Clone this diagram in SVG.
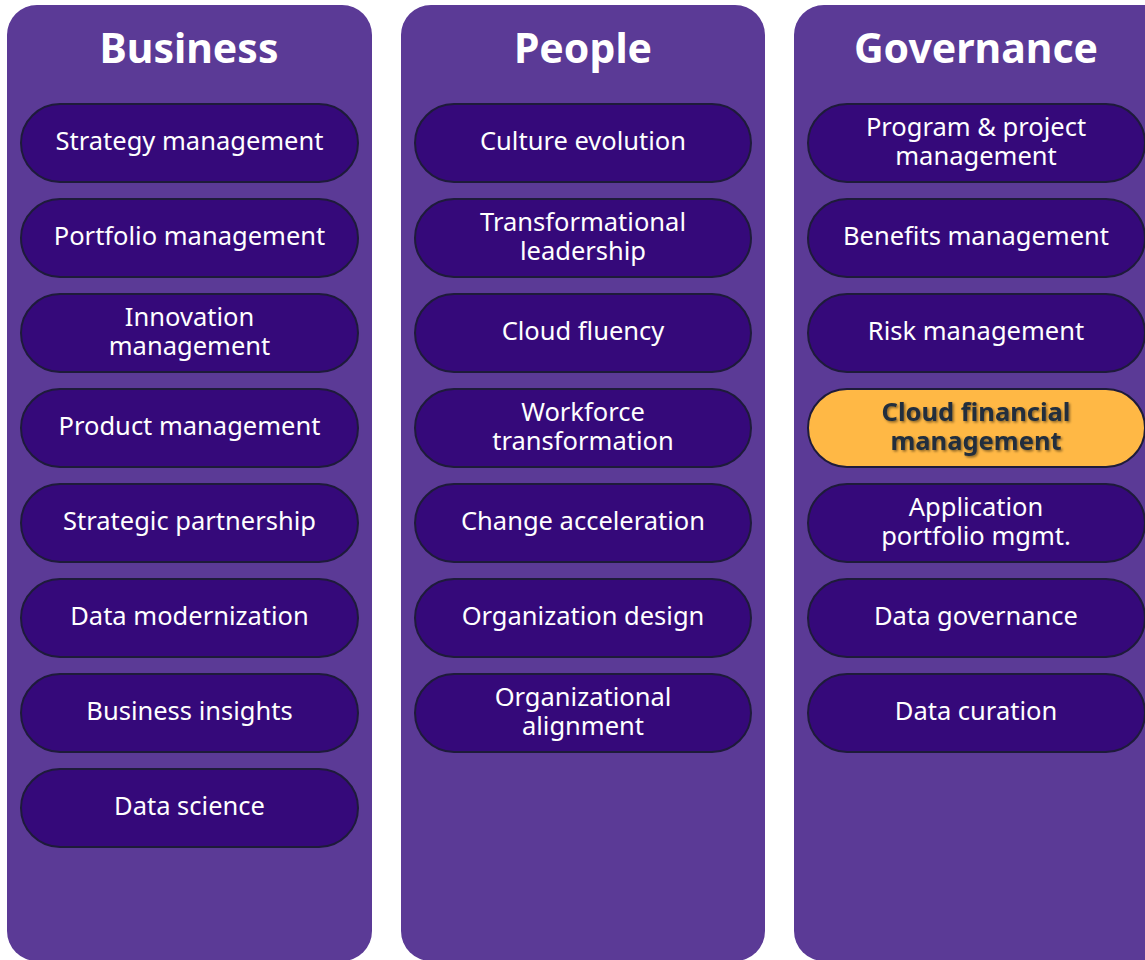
<svg xmlns="http://www.w3.org/2000/svg" width="1145" height="960" viewBox="0 0 1145 960">
<defs>
<style>
.panel{fill:#5b3a96}
.pill rect{fill:#35097a;stroke:#1e1b3a;stroke-width:2}
.pill text{fill:#ffffff;font-family:"Noto Sans","Open Sans",sans-serif;font-size:25.5px;text-anchor:middle}
.title{fill:#ffffff;font-family:"Noto Sans","Open Sans",sans-serif;font-size:41px;font-weight:bold;text-anchor:middle}
.hl rect{fill:#ffb845}
.hl text{fill:#232f3e;font-weight:bold;filter:url(#sh)}
</style>
<filter id="sh" x="-10%" y="-30%" width="120%" height="160%">
<feDropShadow dx="1.5" dy="1.5" stdDeviation="1" flood-color="#000" flood-opacity="0.45"/>
</filter>
</defs>
<rect width="1145" height="960" fill="#ffffff"/>
<g id="col-business">
<rect class="panel" x="7" y="5" width="365" height="956" rx="30"/>
<text class="title" x="189" y="63">Business</text>
</g>
<g id="col-people">
<rect class="panel" x="401" y="5" width="364" height="956" rx="30"/>
<text class="title" x="583" y="63">People</text>
</g>
<g id="col-governance">
<rect class="panel" x="794" y="5" width="380" height="956" rx="30"/>
<text class="title" x="976" y="63">Governance</text>
</g>

<g id="b1" class="pill"><rect x="21" y="104" width="337" height="78" rx="39"/><text x="189.5" y="150">Strategy management</text></g>
<g id="b2" class="pill"><rect x="21" y="199" width="337" height="78" rx="39"/><text x="189.5" y="245">Portfolio management</text></g>
<g id="b3" class="pill"><rect x="21" y="294" width="337" height="78" rx="39"/><text x="189.5" y="326">Innovation</text><text x="189.5" y="355">management</text></g>
<g id="b4" class="pill"><rect x="21" y="389" width="337" height="78" rx="39"/><text x="189.5" y="435">Product management</text></g>
<g id="b5" class="pill"><rect x="21" y="484" width="337" height="78" rx="39"/><text x="189.5" y="530">Strategic partnership</text></g>
<g id="b6" class="pill"><rect x="21" y="579" width="337" height="78" rx="39"/><text x="189.5" y="625">Data modernization</text></g>
<g id="b7" class="pill"><rect x="21" y="674" width="337" height="78" rx="39"/><text x="189.5" y="720">Business insights</text></g>
<g id="b8" class="pill"><rect x="21" y="769" width="337" height="78" rx="39"/><text x="189.5" y="815">Data science</text></g>

<g id="p1" class="pill"><rect x="415" y="104" width="336" height="78" rx="39"/><text x="583" y="150">Culture evolution</text></g>
<g id="p2" class="pill"><rect x="415" y="199" width="336" height="78" rx="39"/><text x="583" y="231">Transformational</text><text x="583" y="260">leadership</text></g>
<g id="p3" class="pill"><rect x="415" y="294" width="336" height="78" rx="39"/><text x="583" y="340">Cloud fluency</text></g>
<g id="p4" class="pill"><rect x="415" y="389" width="336" height="78" rx="39"/><text x="583" y="421">Workforce</text><text x="583" y="450">transformation</text></g>
<g id="p5" class="pill"><rect x="415" y="484" width="336" height="78" rx="39"/><text x="583" y="530">Change acceleration</text></g>
<g id="p6" class="pill"><rect x="415" y="579" width="336" height="78" rx="39"/><text x="583" y="625">Organization design</text></g>
<g id="p7" class="pill"><rect x="415" y="674" width="336" height="78" rx="39"/><text x="583" y="706">Organizational</text><text x="583" y="735">alignment</text></g>

<g id="g1" class="pill"><rect x="808" y="104" width="337" height="78" rx="39"/><text x="976" y="136">Program &amp; project</text><text x="976" y="165">management</text></g>
<g id="g2" class="pill"><rect x="808" y="199" width="337" height="78" rx="39"/><text x="976" y="245">Benefits management</text></g>
<g id="g3" class="pill"><rect x="808" y="294" width="337" height="78" rx="39"/><text x="976" y="340">Risk management</text></g>
<g id="g4" class="pill hl"><rect x="808" y="389" width="337" height="78" rx="39"/><text x="976" y="421">Cloud financial</text><text x="976" y="450">management</text></g>
<g id="g5" class="pill"><rect x="808" y="484" width="337" height="78" rx="39"/><text x="976" y="516">Application</text><text x="976" y="545">portfolio mgmt.</text></g>
<g id="g6" class="pill"><rect x="808" y="579" width="337" height="78" rx="39"/><text x="976" y="625">Data governance</text></g>
<g id="g7" class="pill"><rect x="808" y="674" width="337" height="78" rx="39"/><text x="976" y="720">Data curation</text></g>
<g id="connectors"></g>
</svg>
